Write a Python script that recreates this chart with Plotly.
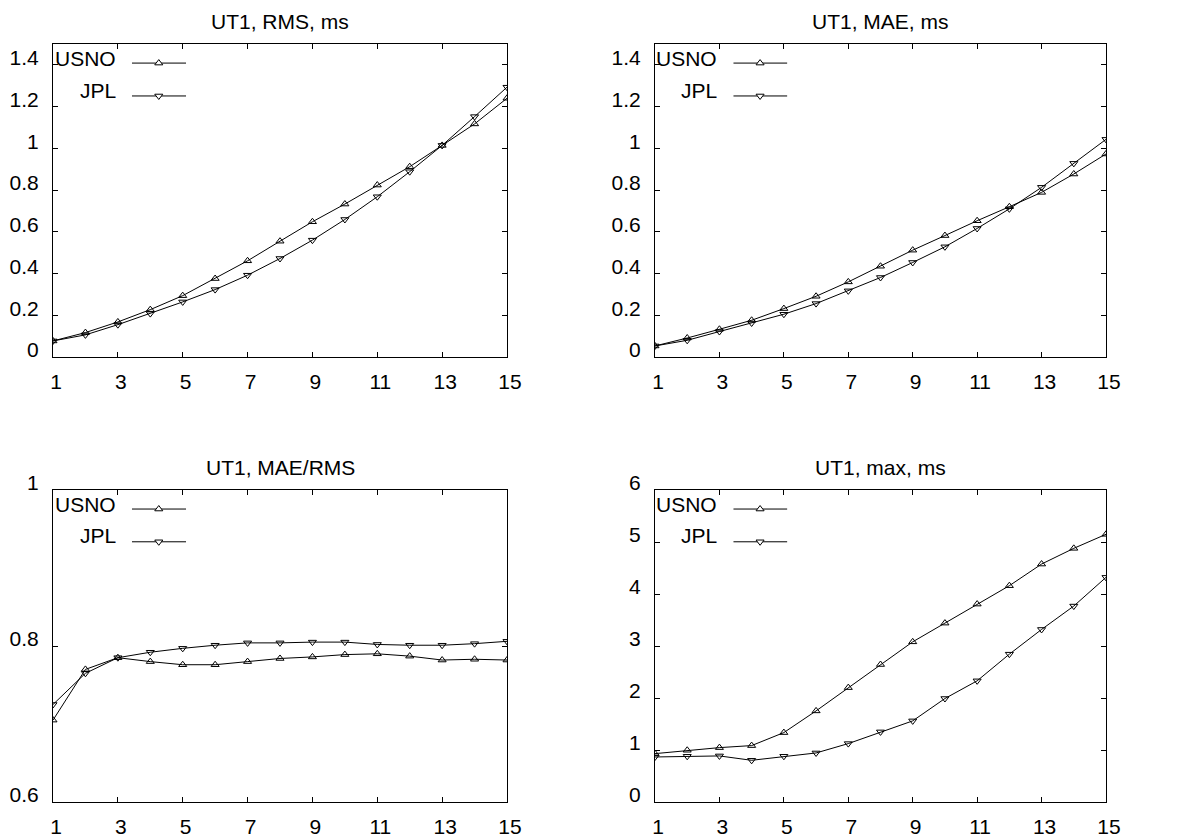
import plotly.graph_objects as go

steps = list(range(1, 16))
x_ticks = [1, 3, 5, 7, 9, 11, 13, 15]

rms_usno = [0.077, 0.117, 0.168, 0.227, 0.294, 0.376, 0.461, 0.555, 0.648, 0.733, 0.824, 0.912, 1.014, 1.117, 1.240]
rms_jpl = [0.077, 0.106, 0.155, 0.208, 0.264, 0.323, 0.392, 0.472, 0.560, 0.659, 0.768, 0.888, 1.014, 1.152, 1.293]

mae_usno = [0.053, 0.091, 0.133, 0.176, 0.232, 0.291, 0.360, 0.435, 0.512, 0.582, 0.653, 0.720, 0.789, 0.877, 0.973]
mae_jpl = [0.053, 0.080, 0.122, 0.163, 0.205, 0.256, 0.317, 0.381, 0.453, 0.528, 0.616, 0.710, 0.813, 0.928, 1.043]

ratio_usno = [0.705, 0.770, 0.785, 0.780, 0.776, 0.776, 0.780, 0.784, 0.786, 0.789, 0.790, 0.787, 0.782, 0.783, 0.782]
ratio_jpl = [0.725, 0.765, 0.785, 0.792, 0.797, 0.801, 0.804, 0.804, 0.805, 0.805, 0.802, 0.801, 0.801, 0.803, 0.806]

max_usno = [0.93, 0.995, 1.046, 1.085, 1.335, 1.752, 2.20, 2.644, 3.08, 3.44, 3.806, 4.16, 4.576, 4.878, 5.148]
max_jpl = [0.866, 0.879, 0.886, 0.802, 0.879, 0.943, 1.123, 1.348, 1.56, 1.99, 2.33, 2.843, 3.318, 3.768, 4.32]

titles = ["UT1, RMS, ms", "UT1, MAE, ms", "UT1, MAE/RMS", "UT1, max, ms"]
series_names = ["USNO", "JPL"]

W, H = 1204, 838
FONT = "Liberation Sans, Arial, sans-serif"

# pixel boxes of the four panels: (left, right, top, bottom)
boxes = [(53, 507, 44, 357), (655, 1106, 44, 357), (53, 507, 490, 802), (655, 1106, 490, 802)]
yranges = [(0, 1.5, 0.2), (0, 1.5, 0.2), (0.6, 1.0, 0.2), (0, 6, 1)]
data = [(rms_usno, rms_jpl), (mae_usno, mae_jpl), (ratio_usno, ratio_jpl), (max_usno, max_jpl)]
title_y = [22, 22, 467, 467]

fig = go.Figure()
shapes = []
annotations = []

for i in range(4):
    l, r, t, b = boxes[i]
    xa = "xaxis" if i == 0 else f"xaxis{i+1}"
    ya = "yaxis" if i == 0 else f"yaxis{i+1}"
    xr = "x" if i == 0 else f"x{i+1}"
    yr = "y" if i == 0 else f"y{i+1}"
    y0, y1, dt = yranges[i]
    usno, jpl = data[i]
    fig.add_trace(go.Scatter(x=steps, y=usno, xaxis=xr, yaxis=yr, mode="lines+markers",
                             line=dict(color="black", width=1),
                             marker=dict(symbol="triangle-up-open", size=7, color="black", line=dict(width=1, color="black")),
                             name=series_names[0], showlegend=False, hoverinfo="skip"))
    fig.add_trace(go.Scatter(x=steps, y=jpl, xaxis=xr, yaxis=yr, mode="lines+markers",
                             line=dict(color="black", width=1),
                             marker=dict(symbol="triangle-down-open", size=7, color="black", line=dict(width=1, color="black")),
                             name=series_names[1], showlegend=False, hoverinfo="skip"))
    axis_common = dict(showline=True, linecolor="black", linewidth=1, mirror="ticks",
                       ticks="inside", ticklen=5, tickcolor="black", tickwidth=1,
                       showgrid=False, zeroline=False, automargin=False,
                       tickfont=dict(family=FONT, size=21, color="black"))
    fig.layout[xa] = dict(domain=[l / W, r / W], anchor=yr, range=[1, 15],
                          tickmode="array", tickvals=x_ticks, ticktext=[str(v) for v in x_ticks],
                          ticklabelstandoff=6, ticklabelshift=3, **axis_common)
    ntick = int(round((y1 - y0) / dt))
    yt = [round(y0 + k * dt, 6) for k in range(ntick + 1)]
    fig.layout[ya] = dict(domain=[1 - b / H, 1 - t / H], anchor=xr, range=[y0, y1],
                          tickmode="array", tickvals=yt, ticktext=[f"{v:g}" for v in yt],
                          ticklabelstandoff=9, ticklabelshift=-7, **axis_common)

    annotations.append(dict(x=(l + r) / 2 / W, y=1 - title_y[i] / H, xref="paper", yref="paper",
                            text=titles[i], showarrow=False, xanchor="center", yanchor="middle",
                            font=dict(family=FONT, size=21, color="black")))

    pw, ph = r - l, b - t
    xd, yd = f"{xr} domain", f"{yr} domain"
    for j, (name, ytext, yline, up) in enumerate([(series_names[0], 0.955, 0.939, True),
                                                   (series_names[1], 0.853, 0.834, False)]):
        annotations.append(dict(x=0.143, y=ytext, xref=xd, yref=yd, text=name, showarrow=False,
                                xanchor="right", yanchor="middle",
                                font=dict(family=FONT, size=21, color="black")))
        shapes.append(dict(type="line", xref=xd, yref=yd, x0=0.174, x1=0.293, y0=yline, y1=yline,
                           line=dict(color="black", width=1)))
        cx, cy = 0.233, yline
        rr = 3.5
        rt = rr * 2 / 3 ** 0.5
        hw = rt / pw
        if up:
            pts = [(cx - hw, cy - rr / 2 / ph), (cx + hw, cy - rr / 2 / ph), (cx, cy + rr / ph)]
        else:
            pts = [(cx - hw, cy + rr / 2 / ph), (cx + hw, cy + rr / 2 / ph), (cx, cy - rr / ph)]
        path = "M{:.5f},{:.5f} L{:.5f},{:.5f} L{:.5f},{:.5f} Z".format(*[c for p in pts for c in p])
        shapes.append(dict(type="path", xref=xd, yref=yd, path=path,
                           line=dict(color="black", width=1), fillcolor="white"))

fig.update_layout(width=W, height=H, margin=dict(l=0, r=0, t=0, b=0, autoexpand=False),
                  paper_bgcolor="white", plot_bgcolor="white", showlegend=False,
                  shapes=shapes, annotations=annotations, hovermode=False,
                  font=dict(family=FONT, color="black"))

fig.write_html("out.html", config={"displayModeBar": False, "staticPlot": True},
               post_script="document.body.style.margin='0';document.body.style.overflow='hidden';")
